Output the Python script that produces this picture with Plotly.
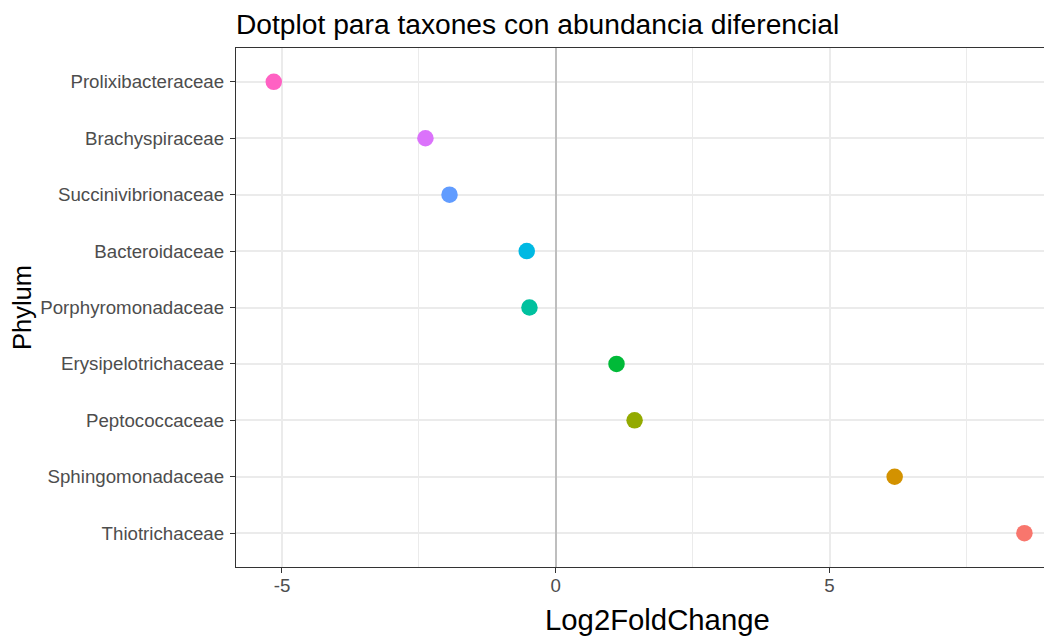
import plotly.graph_objects as go

families = ["Thiotrichaceae", "Sphingomonadaceae", "Peptococcaceae", "Erysipelotrichaceae",
            "Porphyromonadaceae", "Bacteroidaceae", "Succinivibrionaceae", "Brachyspiraceae",
            "Prolixibacteraceae"]
log2fc = [8.56, 6.19, 1.44, 1.11, -0.48, -0.53, -1.94, -2.38, -5.15]
colors = ["#F8766D", "#D39200", "#93AA00", "#00BA38", "#00C19F", "#00B9E3", "#619CFF",
          "#DB72FB", "#FF61C3"]
x_ticks = [-5, 0, 5]
x_tick_labels = ["-5", "0", "5"]

fig = go.Figure()
fig.add_trace(go.Scatter(
    x=log2fc, y=families, mode="markers",
    marker=dict(size=16.5, color=colors, line=dict(width=0)),
    showlegend=False, cliponaxis=False,
))

fig.update_layout(
    width=1052, height=639,
    margin=dict(l=228, r=0, t=40, b=80, autoexpand=False),
    paper_bgcolor="white", plot_bgcolor="white",
    font=dict(family="Liberation Sans, Arial, sans-serif", color="#000000"),
    title=dict(text="Dotplot para taxones con abundancia diferencial",
               x=228/1052, xanchor="left", xref="container",
               y=1-16/639, yanchor="middle", yref="container",
               font=dict(size=28.2, color="#000000")),
    annotations=[dict(text="Log2FoldChange", xref="paper", yref="paper",
                      x=0.512, y=0, xanchor="center", yanchor="middle", yshift=-52,
                      showarrow=False, font=dict(size=29.3, color="#000000"))],
)
fig.update_xaxes(
    range=[-5.84, 9.21], tickvals=x_ticks, ticktext=x_tick_labels,
    showgrid=True, gridcolor="#EBEBEB", gridwidth=1.5,
    minor=dict(dtick=2.5, tick0=0, showgrid=True, gridcolor="#EBEBEB", gridwidth=0.8),
    zeroline=True, zerolinecolor="#BEBEBE", zerolinewidth=1.8,
    showline=True, linecolor="#333333", linewidth=1.2, mirror=True,
    ticks="outside", ticklen=5, tickcolor="#333333", tickwidth=1.2,
    tickfont=dict(size=18.7, color="#4D4D4D"), ticklabelstandoff=-4,
)
fig.update_yaxes(
    categoryorder="array", categoryarray=families, range=[-0.6, 8.6],
    showgrid=True, gridcolor="#EBEBEB", gridwidth=1.5,
    zeroline=False,
    showline=True, linecolor="#333333", linewidth=1.2, mirror=False,
    ticks="outside", ticklen=5, tickcolor="#333333", tickwidth=1.2,
    tickfont=dict(size=18.7, color="#4D4D4D"), ticklabelstandoff=2,
    title=dict(text="Phylum", font=dict(size=25.5, color="#000000"), standoff=6),
)

fig.write_html("out.html")
